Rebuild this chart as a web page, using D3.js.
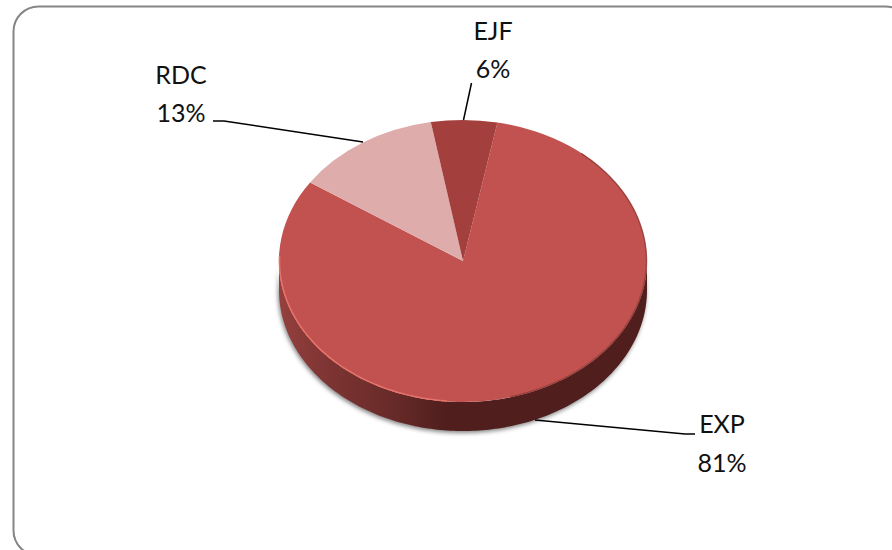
<!DOCTYPE html>
<html><head><meta charset="utf-8">
<script src="https://cdn.jsdelivr.net/npm/d3@7"></script>
<style>html,body{margin:0;padding:0;background:#fff;overflow:hidden}svg{display:block}text{font-family:Lato,"Open Sans",sans-serif;fill:#111}</style>
</head><body><svg id="c" width="892" height="550"></svg>
<script>
const categories = ["EXP","RDC","EJF"];
const shares = [81.4,12.8,5.8];
const sliceColors = ["#c2524f","#deadab","#a33f3d"];

const svg = d3.select("#c");
const cx=463, cy=261, rx=184, ry=141, depth=29;
const defs = svg.append("defs");
const rad = d=>d*Math.PI/180;

const grad = defs.append("linearGradient").attr("id","wall").attr("gradientUnits","userSpaceOnUse")
  .attr("x1",cx-rx).attr("x2",cx+rx).attr("y1",0).attr("y2",0);
[[0,"#94403e"],[0.14,"#7c3432"],[0.3,"#692b29"],[0.46,"#4f1e1d"],[1,"#4f1e1d"]]
  .forEach(([o,c])=>grad.append("stop").attr("offset",o).attr("stop-color",c));
const f = defs.append("filter").attr("id","soft").attr("x","-10%").attr("y","-10%").attr("width","120%").attr("height","120%");
f.append("feGaussianBlur").attr("stdDeviation",2);
const f2 = defs.append("filter").attr("id","soft2").attr("x","-10%").attr("y","-10%").attr("width","120%").attr("height","120%");
f2.append("feGaussianBlur").attr("stdDeviation",0.7);

// frame (runs past the right and bottom edges)
svg.append("rect").attr("x",13.5).attr("y",6.5).attr("width",897).attr("height",549).attr("rx",25)
  .attr("fill","#fff").attr("stroke","#858585").attr("stroke-width",2);

// extruded wall
const angles = d3.range(90,270.5,1);
const wallArea = d3.area()
  .x(a=>cx+rx*Math.sin(rad(a)))
  .y0(a=>cy-ry*Math.cos(rad(a)))
  .y1(a=>cy-ry*Math.cos(rad(a))+depth);
const wallPath = wallArea(angles);
svg.append("path").attr("d",wallPath).attr("fill","#666").attr("opacity",0.8)
  .attr("transform","translate(-1,2)").attr("filter","url(#soft)");
svg.append("path").attr("d",wallPath).attr("fill","url(#wall)");

// pie top, flattened
const pie = d3.pie().sort(null).startAngle(rad(10.8)).endAngle(rad(370.8))(shares);
const arc = d3.arc().innerRadius(0).outerRadius(1);
const pieTop = svg.append("g").attr("transform",`translate(${cx},${cy}) scale(${rx},${ry})`);
pieTop.selectAll("path").data(pie).join("path").attr("d",arc).attr("fill",(d,i)=>sliceColors[i]);

// rim highlight on the lower-left, dark bevel on the right
const rim = (from,to)=>d3.line()
  .x(a=>cx+(rx-0.5)*Math.sin(rad(a)))
  .y(a=>cy-(ry-0.5)*Math.cos(rad(a)))(d3.range(from,to+0.5,1));
svg.append("path").attr("d",rim(185,272)).attr("fill","none").attr("stroke","#e8716a").attr("stroke-width",1.5).attr("filter","url(#soft2)");
svg.append("path").attr("d",rim(40,165)).attr("fill","none").attr("stroke","#8a3735").attr("stroke-width",1.5).attr("opacity",.7).attr("filter","url(#soft2)");

// leader lines
const line = d3.line();
[[[213,121],[224,121],[363,142]],
 [[471.5,83],[463.5,120]],
 [[535,420],[685,434],[695,434]]].forEach(p=>
  svg.append("path").attr("d",line(p)).attr("fill","none").attr("stroke","#000").attr("stroke-width",1.5));

// labels
const labelAt = {EXP:[722,433,471.5],RDC:[181,84,121.5],EJF:[493,40,77.5]};
categories.forEach((c,i)=>{
  const [x,y1,y2]=labelAt[c];
  svg.append("text").attr("x",x).attr("y",y1).attr("text-anchor","middle").attr("font-size",25).text(c);
  svg.append("text").attr("x",x).attr("y",y2).attr("text-anchor","middle").attr("font-size",25).text(Math.round(shares[i])+"%");
});
</script></body></html>
